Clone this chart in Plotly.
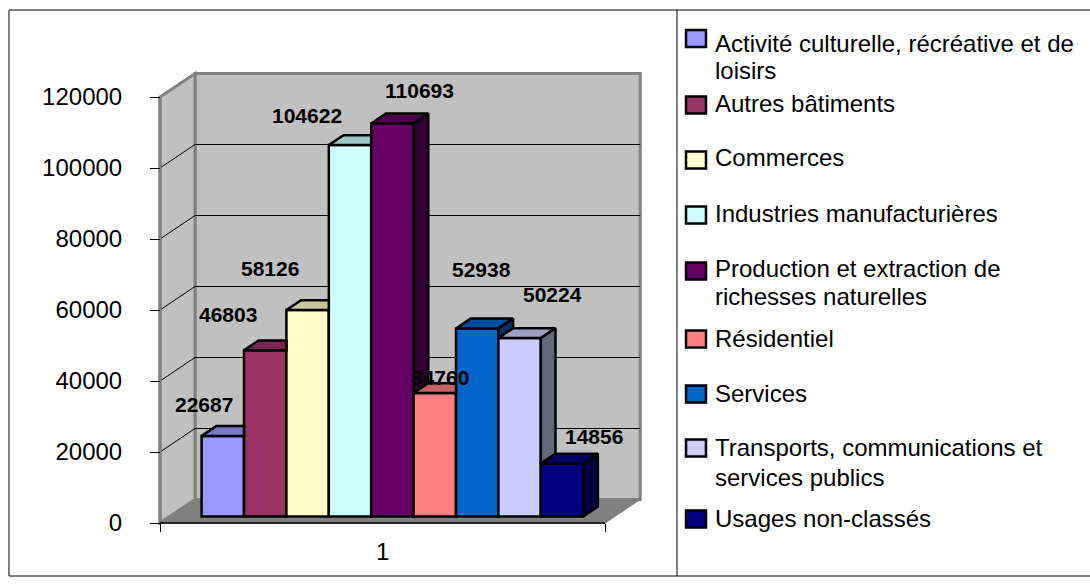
import plotly.graph_objects as go

# ---------------------------------------------------------------- data
CATEGORIES = [
    "Activité culturelle, récréative et de loisirs",
    "Autres bâtiments",
    "Commerces",
    "Industries manufacturières",
    "Production et extraction de richesses naturelles",
    "Résidentiel",
    "Services",
    "Transports, communications et services publics",
    "Usages non-classés",
]
VALUES = [22687, 46803, 58126, 104622, 110693, 34760, 52938, 50224, 14856]
COLORS = ["#9999FF", "#993366", "#FFFFCC", "#CCFFFF", "#660066",
          "#FF8080", "#0066CC", "#CCCCFF", "#000080"]
Y_TICKS = [0, 20000, 40000, 60000, 80000, 100000, 120000]
X_LABEL = "1"
# legend text, wrapped the way the legend box wraps it
LEGEND_LINES = [
    ["Activité culturelle, récréative et de", "loisirs"],
    ["Autres bâtiments"],
    ["Commerces"],
    ["Industries manufacturières"],
    ["Production et extraction de", "richesses naturelles"],
    ["Résidentiel"],
    ["Services"],
    ["Transports, communications et", "services publics"],
    ["Usages non-classés"],
]

# ---------------------------------------------------------------- geometry / style
W, H = 1090, 588
FONT = "Liberation Sans, Arial, sans-serif"
AX_X, AX_Y = 160, 523          # pixel position of the front axis corner
XPX = 42.4                     # pixels per bar slot
YPX = 426 / 120000             # pixels per value unit
GAP = 0.75                     # half of the 150 % gap width, in slots
CAT_W = len(VALUES) + 2 * GAP  # category width on the front plane
DX, DY = 35 / XPX, 23.5 / YPX  # full depth of the box (x slots, value units)
D0, DB = 0.28, 0.42            # bar front plane depth and bar depth (fractions)
BASE = D0 * DY
BDX, BDY = DB * DX, DB * DY
SLOPE = DY / DX
WALL = "#C0C0C0"
FLOOR = "#808080"
EDGE = "#808080"

# value label offsets (pixels) from the bar's front top centre
LABEL_SHIFT = [(-19, 31), (-37, 36), (-38, 42), (-43, 30), (27, 33),
               (5, 16), (4, 59), (33, 44), (32, 27)]


def shade(hex_color, f):
    h = hex_color.lstrip("#")
    r, g, b = (int(h[i:i + 2], 16) for i in (0, 2, 4))
    return "#{:02X}{:02X}{:02X}".format(int(r * f), int(g * f), int(b * f))


def px_x(x):
    return x / W


def px_y(y):
    return 1 - y / H


def path(points):
    return "M " + " L ".join(f"{x},{y}" for x, y in points) + " Z"


fig = go.Figure()

# ---------------------------------------------------------------- walls and floor
shapes = []
shapes.append(dict(type="path", xref="x", yref="y", layer="below",
                   path=path([(DX, DY), (CAT_W + DX, DY), (CAT_W + DX, Y_TICKS[-1] + DY),
                              (DX, Y_TICKS[-1] + DY)]),
                   fillcolor=WALL, line=dict(color=EDGE, width=3)))
shapes.append(dict(type="path", xref="x", yref="y", layer="below",
                   path=path([(0, 0), (0, Y_TICKS[-1]), (DX, Y_TICKS[-1] + DY), (DX, DY)]),
                   fillcolor=WALL, line=dict(color=EDGE, width=3)))
shapes.append(dict(type="path", xref="x", yref="y", layer="below",
                   path=path([(0, 0), (CAT_W, 0), (CAT_W + DX, DY), (DX, DY)]),
                   fillcolor=FLOOR, line=dict(color=EDGE, width=1)))
for v in Y_TICKS[1:-1]:
    shapes.append(dict(type="line", xref="x", yref="y", layer="below",
                       x0=DX, x1=CAT_W + DX, y0=v + DY, y1=v + DY,
                       line=dict(color="black", width=1)))
    shapes.append(dict(type="line", xref="x", yref="y", layer="below",
                       x0=0, x1=DX, y0=v, y1=v + DY,
                       line=dict(color="black", width=1)))
# front axis lines
shapes.append(dict(type="line", xref="x", yref="y", layer="below",
                   x0=0, x1=0, y0=0, y1=Y_TICKS[-1], line=dict(color=EDGE, width=3)))
shapes.append(dict(type="line", xref="x", yref="y", layer="below",
                   x0=0, x1=CAT_W, y0=0, y1=0, line=dict(color="black", width=1.5)))

# ---------------------------------------------------------------- bars
n = len(VALUES)
lefts = [GAP + i + D0 * DX for i in range(n)]
centers = [l + 0.5 for l in lefts]

fig.add_trace(go.Bar(
    x=centers, y=VALUES, base=BASE, width=1,
    marker=dict(color=COLORS, line=dict(color="black", width=2.5)),
    hovertext=CATEGORIES, hoverinfo="text+y", showlegend=False,
))

for i, v in enumerate(VALUES):
    l, r = lefts[i], lefts[i] + 1
    h = BASE + v
    hn = BASE + VALUES[i + 1] if i < n - 1 else None

    # top face, trimmed where the next (taller) bar hides it
    if hn is not None and hn > h:
        if hn >= h + BDY:
            top = [(l, h), (r, h), (r, h + BDY), (l + BDX, h + BDY)]
        else:
            top = [(l, h), (r, h), (r, hn), (r + (h + BDY - hn) / SLOPE, h + BDY),
                   (l + BDX, h + BDY)]
    else:
        top = [(l, h), (r, h), (r + BDX, h + BDY), (l + BDX, h + BDY)]
    top.append(top[0])
    fig.add_trace(go.Scatter(
        x=[p[0] for p in top], y=[p[1] for p in top], mode="lines", fill="toself",
        fillcolor=shade(COLORS[i], 0.78), line=dict(color="black", width=2.5),
        hoverinfo="skip", showlegend=False))

    # right side face, only the part above the next bar
    low = hn if hn is not None else BASE
    if low < h:
        side = [(r, low), (r, h), (r + BDX, h + BDY), (r + BDX, low + BDY), (r, low)]
        fig.add_trace(go.Scatter(
            x=[p[0] for p in side], y=[p[1] for p in side], mode="lines", fill="toself",
            fillcolor=shade(COLORS[i], 0.5), line=dict(color="black", width=2.5),
            hoverinfo="skip", showlegend=False))

# ---------------------------------------------------------------- value labels
annotations = []
for i, v in enumerate(VALUES):
    sx, sy = LABEL_SHIFT[i]
    annotations.append(dict(
        x=centers[i], y=BASE + v, xref="x", yref="y", text=f"<b>{v}</b>",
        showarrow=False, xanchor="center", yanchor="middle", xshift=sx, yshift=sy,
        font=dict(family=FONT, size=21, color="black")))

# ---------------------------------------------------------------- legend
SW_X0, SW_X1 = 686, 706
TEXT_X = 713
SW_Y = [38.5, 105, 160, 215, 271, 339, 394, 448, 519]
TEXT_Y = [43, 104, 158, 213, 268, 338, 393, 447, 518]
LINE_GAP = [27, 28, 28, 28, 28, 28, 28, 30, 28]
for i, lines in enumerate(LEGEND_LINES):
    shapes.append(dict(type="rect", xref="paper", yref="paper",
                       x0=px_x(SW_X0), x1=px_x(SW_X1),
                       y0=px_y(SW_Y[i] - 8.5), y1=px_y(SW_Y[i] + 8.5),
                       fillcolor=COLORS[i], line=dict(color="black", width=2.5)))
    for j, line in enumerate(lines):
        annotations.append(dict(
            x=px_x(TEXT_X), y=px_y(TEXT_Y[i] + j * LINE_GAP[i]), xref="paper", yref="paper",
            text=line, showarrow=False, xanchor="left", yanchor="middle",
            font=dict(family=FONT, size=24, color="black")))

# ---------------------------------------------------------------- frames
frame = dict(color="black", width=1)
shapes.append(dict(type="line", xref="paper", yref="paper",
                   x0=px_x(9), x1=1.01, y0=px_y(10), y1=px_y(10), line=frame))
shapes.append(dict(type="line", xref="paper", yref="paper",
                   x0=px_x(9), x1=1.01, y0=px_y(576), y1=px_y(576), line=frame))
shapes.append(dict(type="line", xref="paper", yref="paper",
                   x0=px_x(9), x1=px_x(9), y0=px_y(10), y1=px_y(576), line=frame))
shapes.append(dict(type="line", xref="paper", yref="paper",
                   x0=px_x(677), x1=px_x(677), y0=px_y(10), y1=px_y(576), line=frame))

fig.update_layout(
    template="none",
    width=W, height=H,
    margin=dict(l=0, r=0, t=0, b=0, pad=0, autoexpand=False),
    paper_bgcolor="white", plot_bgcolor="white",
    showlegend=False,
    shapes=shapes,
    annotations=annotations,
    font=dict(family=FONT, size=24, color="black"),
    xaxis=dict(
        domain=[0, 1], range=[-AX_X / XPX, (W - AX_X) / XPX],
        anchor="free", position=px_y(AX_Y),
        showgrid=False, zeroline=False, showline=False, automargin=False,
        tickmode="array", tickvals=[CAT_W / 2], ticktext=[X_LABEL], ticks="",
        tickfont=dict(family=FONT, size=24, color="black"),
        ticklabelstandoff=12,
        minor=dict(tickmode="array", tickvals=[0, CAT_W], ticks="outside",
                   ticklen=8, tickwidth=1, tickcolor="black", showgrid=False),
        fixedrange=True,
    ),
    yaxis=dict(
        domain=[0, 1], range=[(AX_Y - H) / YPX, AX_Y / YPX],
        anchor="free", position=px_x(AX_X),
        showgrid=False, zeroline=False, showline=False, automargin=False,
        tickmode="array", tickvals=Y_TICKS, ticktext=[str(v) for v in Y_TICKS],
        ticks="outside", ticklen=10, tickwidth=1, tickcolor="black",
        tickfont=dict(family=FONT, size=24, color="black"),
        ticklabelstandoff=23,
        fixedrange=True,
    ),
)

fig.write_html("out.html")
